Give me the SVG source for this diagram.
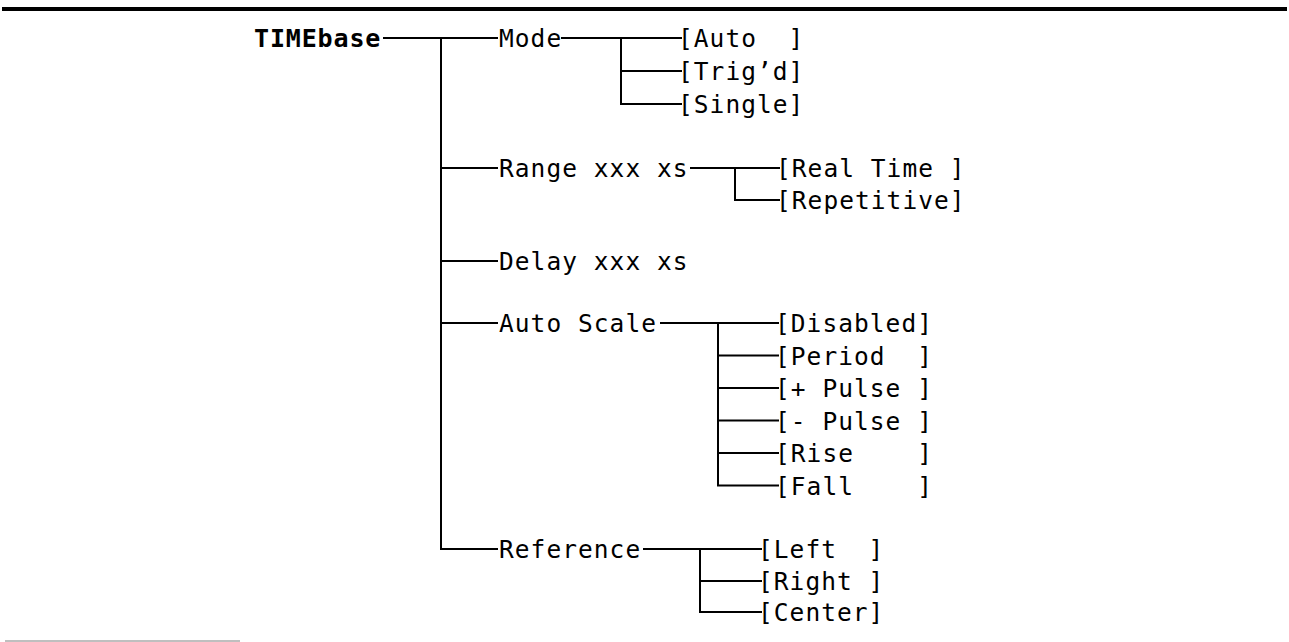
<svg xmlns="http://www.w3.org/2000/svg" width="1289" height="642" viewBox="0 0 1289 642" xml:space="preserve">
<style>
.t{font-family:"DejaVu Sans Mono","Liberation Mono",monospace;font-size:24.5px;letter-spacing:1.05px;fill:#000;white-space:pre}
.root{font-family:"DejaVu Sans Mono","Liberation Mono",monospace;font-size:25px;font-weight:bold;letter-spacing:0.85px;fill:#000}
.c{fill:none;stroke:#000;stroke-width:2}
</style>
<rect width="1289" height="642" fill="#fff"/>
<line x1="2" y1="9" x2="1287" y2="9" stroke="#000" stroke-width="4"/>
<line x1="5" y1="641" x2="240" y2="641" stroke="#aaa" stroke-width="1.5"/>
<g id="connectors" class="c">
<path d="M383 38H498"/>
<path d="M441 38V549H498"/>
<path d="M441 168H498"/>
<path d="M441 261H498"/>
<path d="M441 323H498"/>
<path d="M561 38H682M621 38V104H682M621 71H682"/>
<path d="M690 168H780M735 168V200H780"/>
<path d="M660 323H779M718 323V485.5H779M718 355.5H779M718 388H779M718 420.5H779M718 453H779"/>
<path d="M643 549H762M700 549V612H762M700 581H762"/>
</g>
<g id="timebase"><text class="root" x="254" y="46.5">TIMEbase</text></g>
<g id="mode"><text class="t" x="499" y="47">Mode</text></g>
<g id="mode-auto"><text class="t" x="678" y="47">[Auto  ]</text></g>
<g id="mode-trigd"><text class="t" x="678" y="80">[Trig’d]</text></g>
<g id="mode-single"><text class="t" x="678" y="113">[Single]</text></g>
<g id="range"><text class="t" x="499" y="177">Range xxx xs</text></g>
<g id="range-realtime"><text class="t" x="776" y="177">[Real Time ]</text></g>
<g id="range-repetitive"><text class="t" x="776" y="209">[Repetitive]</text></g>
<g id="delay"><text class="t" x="499" y="270">Delay xxx xs</text></g>
<g id="autoscale"><text class="t" x="499" y="332">Auto Scale</text></g>
<g id="as-disabled"><text class="t" x="775" y="332">[Disabled]</text></g>
<g id="as-period"><text class="t" x="775" y="364.5">[Period  ]</text></g>
<g id="as-ppulse"><text class="t" x="775" y="397">[+ Pulse ]</text></g>
<g id="as-npulse"><text class="t" x="775" y="429.5">[- Pulse ]</text></g>
<g id="as-rise"><text class="t" x="775" y="462">[Rise    ]</text></g>
<g id="as-fall"><text class="t" x="775" y="494.5">[Fall    ]</text></g>
<g id="reference"><text class="t" x="499" y="558">Reference</text></g>
<g id="ref-left"><text class="t" x="758" y="558">[Left  ]</text></g>
<g id="ref-right"><text class="t" x="758" y="590">[Right ]</text></g>
<g id="ref-center"><text class="t" x="758" y="621">[Center]</text></g>
</svg>
